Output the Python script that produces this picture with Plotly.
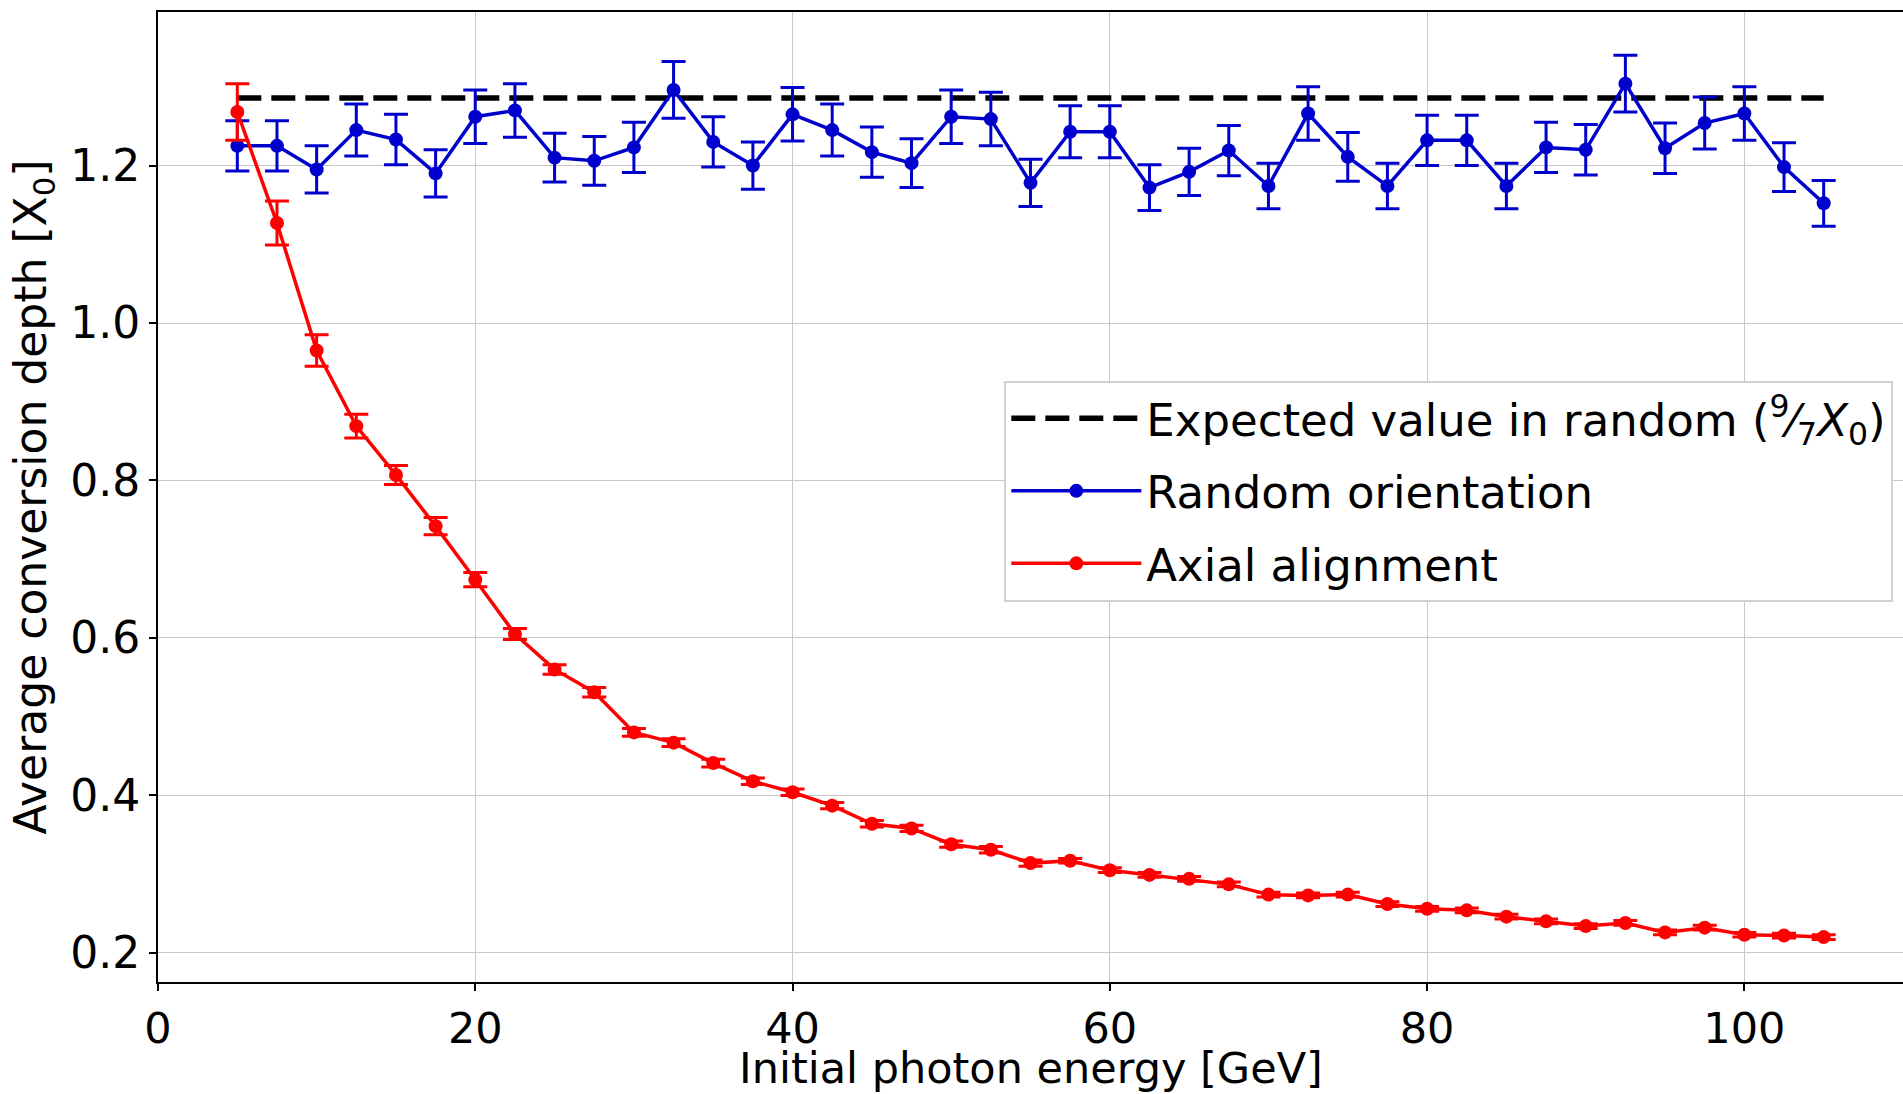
import plotly.graph_objects as go

energy = [5, 7.5, 10, 12.5, 15, 17.5, 20, 22.5, 25, 27.5, 30, 32.5, 35, 37.5, 40, 42.5, 45, 47.5,
          50, 52.5, 55, 57.5, 60, 62.5, 65, 67.5, 70, 72.5, 75, 77.5, 80, 82.5, 85, 87.5, 90, 92.5,
          95, 97.5, 100, 102.5, 105]

random_depth = [1.225, 1.225, 1.195, 1.245, 1.233, 1.19, 1.262, 1.27, 1.21, 1.206, 1.223, 1.296,
                1.23, 1.2, 1.265, 1.245, 1.217, 1.203, 1.262, 1.259, 1.178, 1.243, 1.243, 1.172,
                1.192, 1.219, 1.174, 1.266, 1.211, 1.174, 1.232, 1.232, 1.174, 1.223, 1.22, 1.304,
                1.222, 1.254, 1.266, 1.198, 1.152]
random_err = [0.032, 0.032, 0.030, 0.033, 0.032, 0.030, 0.034, 0.034, 0.031, 0.031, 0.032, 0.036,
              0.032, 0.030, 0.034, 0.033, 0.032, 0.031, 0.034, 0.034, 0.030, 0.033, 0.033, 0.029,
              0.030, 0.032, 0.029, 0.034, 0.031, 0.029, 0.032, 0.032, 0.029, 0.032, 0.032, 0.036,
              0.032, 0.033, 0.034, 0.031, 0.029]

axial_depth = [1.268, 1.127, 0.965, 0.869, 0.807, 0.742, 0.674, 0.605, 0.56, 0.531, 0.48, 0.467,
               0.441, 0.418, 0.404, 0.387, 0.364, 0.358, 0.338, 0.331, 0.314, 0.317, 0.305, 0.299,
               0.294, 0.287, 0.274, 0.273, 0.274, 0.262, 0.256, 0.254, 0.246, 0.24, 0.234, 0.238,
               0.226, 0.232, 0.223, 0.222, 0.22]
axial_err = [0.036, 0.028, 0.02, 0.015, 0.012, 0.011, 0.009, 0.007, 0.006, 0.006, 0.005, 0.005,
             0.005, 0.004, 0.004, 0.004, 0.004, 0.004, 0.004, 0.004, 0.004, 0.003, 0.003, 0.003,
             0.003, 0.003, 0.003, 0.003, 0.003, 0.003, 0.003, 0.003, 0.003, 0.003, 0.003, 0.003,
             0.003, 0.003, 0.003, 0.003, 0.003]

expected_x = [5, 105]
expected_y = [9 / 7, 9 / 7]

x_title = "Initial photon energy [GeV]"
y_title = "Average conversion depth [X<sub>0</sub>]"

FONT = "DejaVu Sans"
BLUE = "#0000CC"
RED = "#FF0000"

fig = go.Figure()
fig.add_trace(go.Scatter(
    x=expected_x, y=expected_y, mode="lines",
    line=dict(color="black", width=5.5, dash="24px,10px"),
    name="Expected value in random (<sup>9</sup>⁄<sub>7</sub><i>X</i><sub>0</sub>)",
    legendgroup="a",
))
fig.add_trace(go.Scatter(
    x=energy, y=random_depth, mode="lines+markers",
    line=dict(color=BLUE, width=3.5),
    marker=dict(color=BLUE, size=14),
    error_y=dict(type="data", array=random_err, color=BLUE, thickness=3, width=12),
    name="Random orientation",
    legendgroup="b",
))
fig.add_trace(go.Scatter(
    x=energy, y=axial_depth, mode="lines+markers",
    line=dict(color=RED, width=3.5),
    marker=dict(color=RED, size=14),
    error_y=dict(type="data", array=axial_err, color=RED, thickness=3, width=12),
    name="Axial alignment",
    legendgroup="c",
))

axis_common = dict(
    showline=True, linecolor="black", linewidth=2,
    ticks="outside", ticklen=7, tickwidth=2, tickcolor="black",
    showgrid=True, gridcolor="#c8c8c8", gridwidth=1, zeroline=False,
)

fig.update_xaxes(
    range=[0, 110], tickvals=[0, 20, 40, 60, 80, 100], mirror=True,
    tickfont=dict(family=FONT, size=43, color="black"),
    **axis_common,
)
fig.update_yaxes(
    range=[0.163, 1.395], tickvals=[0.2, 0.4, 0.6, 0.8, 1.0, 1.2], tickformat=".1f", mirror=False,
    tickfont=dict(family=FONT, size=44, color="black"),
    title=dict(text=y_title, font=dict(family=FONT, size=44, color="black"), standoff=10),
    **axis_common,
)

fig.add_annotation(
    text=x_title, xref="paper", yref="paper", x=0.5, y=0,
    xanchor="center", yanchor="bottom", yshift=-112, showarrow=False,
    font=dict(family=FONT, size=43, color="black"), borderpad=0,
)

fig.update_layout(
    width=1903, height=1094,
    margin=dict(l=158, r=0, t=12, b=112),
    paper_bgcolor="white", plot_bgcolor="white",
    showlegend=True,
    legend=dict(
        x=0.485, y=0.62, xanchor="left", yanchor="top",
        bgcolor="white", bordercolor="#d0d0d0", borderwidth=2,
        font=dict(family=FONT, size=45, color="black"),
        itemwidth=130, tracegroupgap=11, traceorder="grouped",
    ),
)

fig.write_html("out.html")
